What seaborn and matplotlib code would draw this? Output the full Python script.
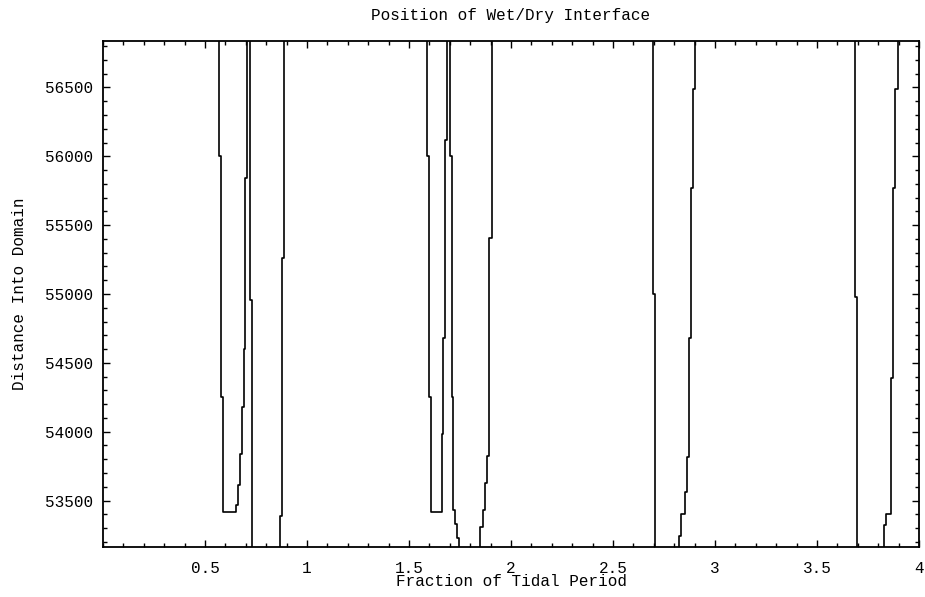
import numpy as np
import pandas as pd
import matplotlib
matplotlib.use("Agg")
import matplotlib.pyplot as plt
import seaborn as sns
from matplotlib.ticker import MultipleLocator, FixedLocator

# ---- data: each stroke = times of its vertical pieces + the distance levels bounding them
s1_t = [0.569, 0.580, 0.587, 0.652, 0.660, 0.672, 0.681, 0.690, 0.698, 0.706]
s1_y = [57000, 56000, 54250, 53420, 53470, 53610, 53835, 54180, 54600, 55845, 57000]
s2_t = [0.721, 0.732]
s2_y = [57000, 54960, 53000]
s3_t = [0.868, 0.879, 0.889]
s3_y = [53000, 53390, 55265, 57000]
s4_t = [1.587, 1.598, 1.606, 1.663, 1.668, 1.676, 1.685]
s4_y = [57000, 56000, 54250, 53420, 53980, 54680, 56120, 57000]
s5_t = [1.701, 1.709, 1.717, 1.725, 1.734, 1.747]
s5_y = [57000, 56000, 54250, 53430, 53330, 53230, 53000]
s6_t = [1.848, 1.861, 1.873, 1.884, 1.894, 1.905]
s6_y = [53000, 53310, 53430, 53625, 53825, 55410, 57000]
s7_t = [2.696, 2.706]
s7_y = [57000, 55000, 53000]
s8_t = [2.822, 2.835, 2.851, 2.864, 2.873, 2.881, 2.892, 2.904]
s8_y = [53000, 53240, 53400, 53560, 53820, 54680, 55770, 56490, 57000]
s9_t = [3.686, 3.698]
s9_y = [57000, 54975, 53000]
s10_t = [3.827, 3.838, 3.863, 3.874, 3.882, 3.895]
s10_y = [53000, 53320, 53400, 54390, 55770, 56490, 57000]

x_tick_vals = [0.5, 1, 1.5, 2, 2.5, 3, 3.5, 4]
x_tick_labels = ["0.5", "1", "1.5", "2", "2.5", "3", "3.5", "4"]
y_tick_vals = [53500, 54000, 54500, 55000, 55500, 56000, 56500]
y_tick_labels = ["53500", "54000", "54500", "55000", "55500", "56000", "56500"]

strokes = [(s1_t, s1_y), (s2_t, s2_y), (s3_t, s3_y), (s4_t, s4_y), (s5_t, s5_y),
           (s6_t, s6_y), (s7_t, s7_y), (s8_t, s8_y), (s9_t, s9_y), (s10_t, s10_y)]

rows = []
for sid, (ts, ys) in enumerate(strokes):
    order = 0
    for i, t in enumerate(ts):
        rows.append((sid, order, t, ys[i])); order += 1
        rows.append((sid, order, t, ys[i + 1])); order += 1
df = pd.DataFrame(rows, columns=["stroke", "order", "t", "dist"])

sns.set_theme(style="white")
mono = ["Liberation Mono", "DejaVu Sans Mono"]
plt.rcParams["font.family"] = mono

fig = plt.figure(figsize=(9.25, 5.97), dpi=100)
ax = fig.add_axes([103 / 925, 1 - 547 / 597, (919 - 103) / 925, (547 - 41) / 597])

sns.lineplot(data=df, x="t", y="dist", units="stroke", estimator=None, sort=False,
             color="black", linewidth=1.2, ax=ax, legend=False)

ax.set_xlim(0, 4)
ax.set_ylim(53163, 56837)
ax.xaxis.set_major_locator(FixedLocator(x_tick_vals))
ax.set_xticklabels(x_tick_labels)
ax.xaxis.set_minor_locator(MultipleLocator(0.1))
ax.yaxis.set_major_locator(FixedLocator(y_tick_vals))
ax.set_yticklabels(y_tick_labels)
ax.yaxis.set_minor_locator(MultipleLocator(100))

ax.tick_params(which="both", direction="in", top=True, right=True, bottom=True, left=True,
               color="black", width=1.0, labelsize=11.5, labelcolor="black")
ax.tick_params(which="major", length=5)
ax.tick_params(which="minor", length=3)
ax.tick_params(axis="x", which="major", pad=10)
ax.tick_params(axis="y", which="major", pad=7)

for sp in ax.spines.values():
    sp.set_color("black")
    sp.set_linewidth(1.3)

ax.set_xlabel("Fraction of Tidal Period", fontsize=11.5, labelpad=-1, color="black")
ax.set_ylabel("Distance Into Domain", fontsize=11.5, labelpad=13, color="black")
ax.set_title("Position of Wet/Dry Interface", fontsize=11.5, pad=15, color="black")

fig.savefig("out.png", dpi=100, facecolor="white")
